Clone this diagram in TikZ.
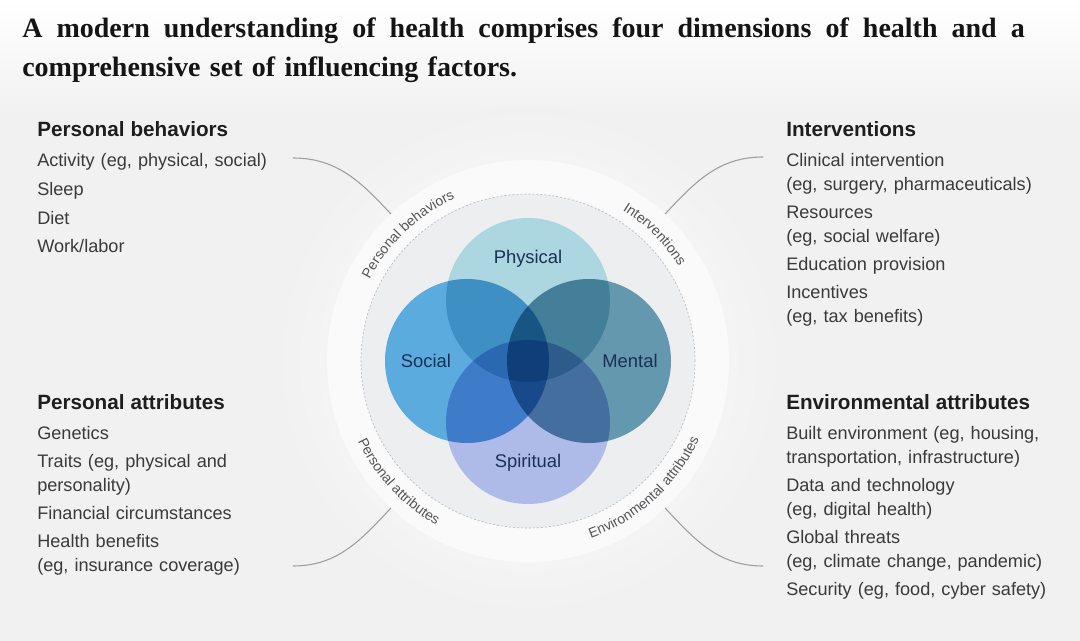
\documentclass[tikz,border=0pt]{standalone}
\usepackage{fontspec}
\setmainfont{Liberation Sans}
\newfontfamily\titlefont{Liberation Serif}
\usetikzlibrary{calc,decorations.text}

\definecolor{bgGray}{RGB}{241,241,242}
\definecolor{ringWhite}{RGB}{250,250,251}
\definecolor{innerGray}{RGB}{237,238,240}
\definecolor{dashCol}{RGB}{186,186,191}
\definecolor{physCol}{RGB}{172,214,224}
\definecolor{socCol}{RGB}{92,171,223}
\definecolor{mentCol}{RGB}{100,152,174}
\definecolor{spirCol}{RGB}{174,186,232}
\definecolor{navy}{RGB}{26,48,86}
\definecolor{headCol}{RGB}{30,30,30}
\definecolor{itemCol}{RGB}{58,58,58}
\definecolor{arcCol}{RGB}{85,85,88}
\definecolor{lineCol}{RGB}{158,158,160}

\newcommand{\headfont}{\fontsize{15.5}{18}\selectfont\color{headCol}}
\newcommand{\arcfont}{\fontsize{10.5}{12}\selectfont\color{arcCol}}

\begin{document}
\begin{tikzpicture}[x=0.75pt, y=0.75pt,
  block/.style={anchor=base west, inner sep=0pt, text width=230pt, align=left,
    text=itemCol, font=\fontsize{13.6}{18}\selectfont},
  dimlabel/.style={inner sep=0pt, text=navy, font=\fontsize{13.8}{16}\selectfont},
  link/.style={draw=lineCol, line width=0.8pt}]
  % page and background
  \useasboundingbox (0,0) rectangle (1080,-641);
  \fill[bgGray] (0,0) rectangle (1080,-641);
  \shade[top color=white, bottom color=bgGray] (0,0) rectangle (1080,-115);
  \coordinate (C) at (528,-361);
  \shade[inner color=white, outer color=bgGray] (C) circle (255);
  \fill[ringWhite] (C) circle (201);
  \fill[innerGray] (C) circle (167);
  \draw[dashCol, line width=0.5pt, dash pattern=on 1.5pt off 1.5pt] (C) circle (167);

  % title
  \node[anchor=base west, inner sep=0pt, text width=800pt, align=left, text=black!92,
    font=\titlefont\bfseries\fontsize{21}{29}\selectfont] (title) at (22,-38)
    {{\spaceskip=0.25em plus 1fil\hbox to 752pt{A modern understanding of health comprises four dimensions of health and a}}\\
     comprehensive set of influencing factors.};

  % four dimensions
  \begin{scope}[blend group=multiply]
    \foreach \ang/\col in {90/physCol, 180/socCol, 0/mentCol, 270/spirCol}
      \fill[\col] ($(C)+(\ang:61)$) circle (82);
  \end{scope}
  \foreach \nm/\ang in {Physical/90, Social/180, Mental/0, Spiritual/270}
    \node[dimlabel] (\nm) at ($(C)+(\ang:102)$) {\nm};

  % ring labels
  \path[decorate, decoration={text along path, text align=center,
      text={|\arcfont|Personal behaviors}}]
    ($(C)+(165:178)$) arc[start angle=165, end angle=102, radius=178];
  \path[decorate, decoration={text along path, text align=center,
      text={|\arcfont|Interventions}}]
    ($(C)+(75:178)$) arc[start angle=75, end angle=15, radius=178];
  \path[decorate, decoration={text along path, text align=center,
      text={|\arcfont|Personal attributes}}]
    ($(C)+(193:188)$) arc[start angle=193, end angle=253, radius=188];
  \path[decorate, decoration={text along path, text align=center,
      text={|\arcfont|Environmental attributes}}]
    ($(C)+(282:188)$) arc[start angle=282, end angle=343, radius=188];

  % factor lists
  \node[block] (behav) at (37,-137) {{\headfont\bfseries Personal behaviors}\\[4.5pt]
    Activity (eg, physical, social)\\[3.5pt]
    Sleep\\[3.5pt]
    Diet\\[3.5pt]
    Work/labor};
  \node[block] (interv) at (786,-137) {{\headfont\bfseries Interventions}\\[4.5pt]
    Clinical intervention\\
    (eg, surgery, pharmaceuticals)\\[3pt]
    Resources\\
    (eg, social welfare)\\[3pt]
    Education provision\\[3pt]
    Incentives\\
    (eg, tax benefits)};
  \node[block] (pattr) at (37,-409) {{\headfont\bfseries Personal attributes}\\[4.5pt]
    Genetics\\[3.5pt]
    Traits (eg, physical and\\
    personality)\\[3pt]
    Financial circumstances\\[3pt]
    Health benefits\\
    (eg, insurance coverage)};
  \node[block] (eattr) at (786,-409) {{\headfont\bfseries Environmental attributes}\\[4.5pt]
    Built environment (eg, housing,\\
    transportation, infrastructure)\\[3pt]
    Data and technology\\
    (eg, digital health)\\[3pt]
    Global threats\\
    (eg, climate change, pandemic)\\[3pt]
    Security (eg, food, cyber safety)};

  % connectors from lists to the ring
  \coordinate (behavEnd) at ($(C)+(133:201)$);
  \coordinate (intervEnd) at ($(C)+(47:201)$);
  \coordinate (pattrEnd) at ($(C)+(227:201)$);
  \coordinate (eattrEnd) at ($(C)+(313:201)$);
  \coordinate (behavStart) at (293,-158);
  \coordinate (intervStart) at (763,-157);
  \coordinate (pattrStart) at (293,-566);
  \coordinate (eattrStart) at (763,-566);
  \draw[link] (behavStart) to[out=0, in=133] (behavEnd);
  \draw[link] (intervStart) to[out=180, in=47] (intervEnd);
  \draw[link] (pattrStart) to[out=0, in=227] (pattrEnd);
  \draw[link] (eattrStart) to[out=180, in=313] (eattrEnd);
\end{tikzpicture}
\end{document}
